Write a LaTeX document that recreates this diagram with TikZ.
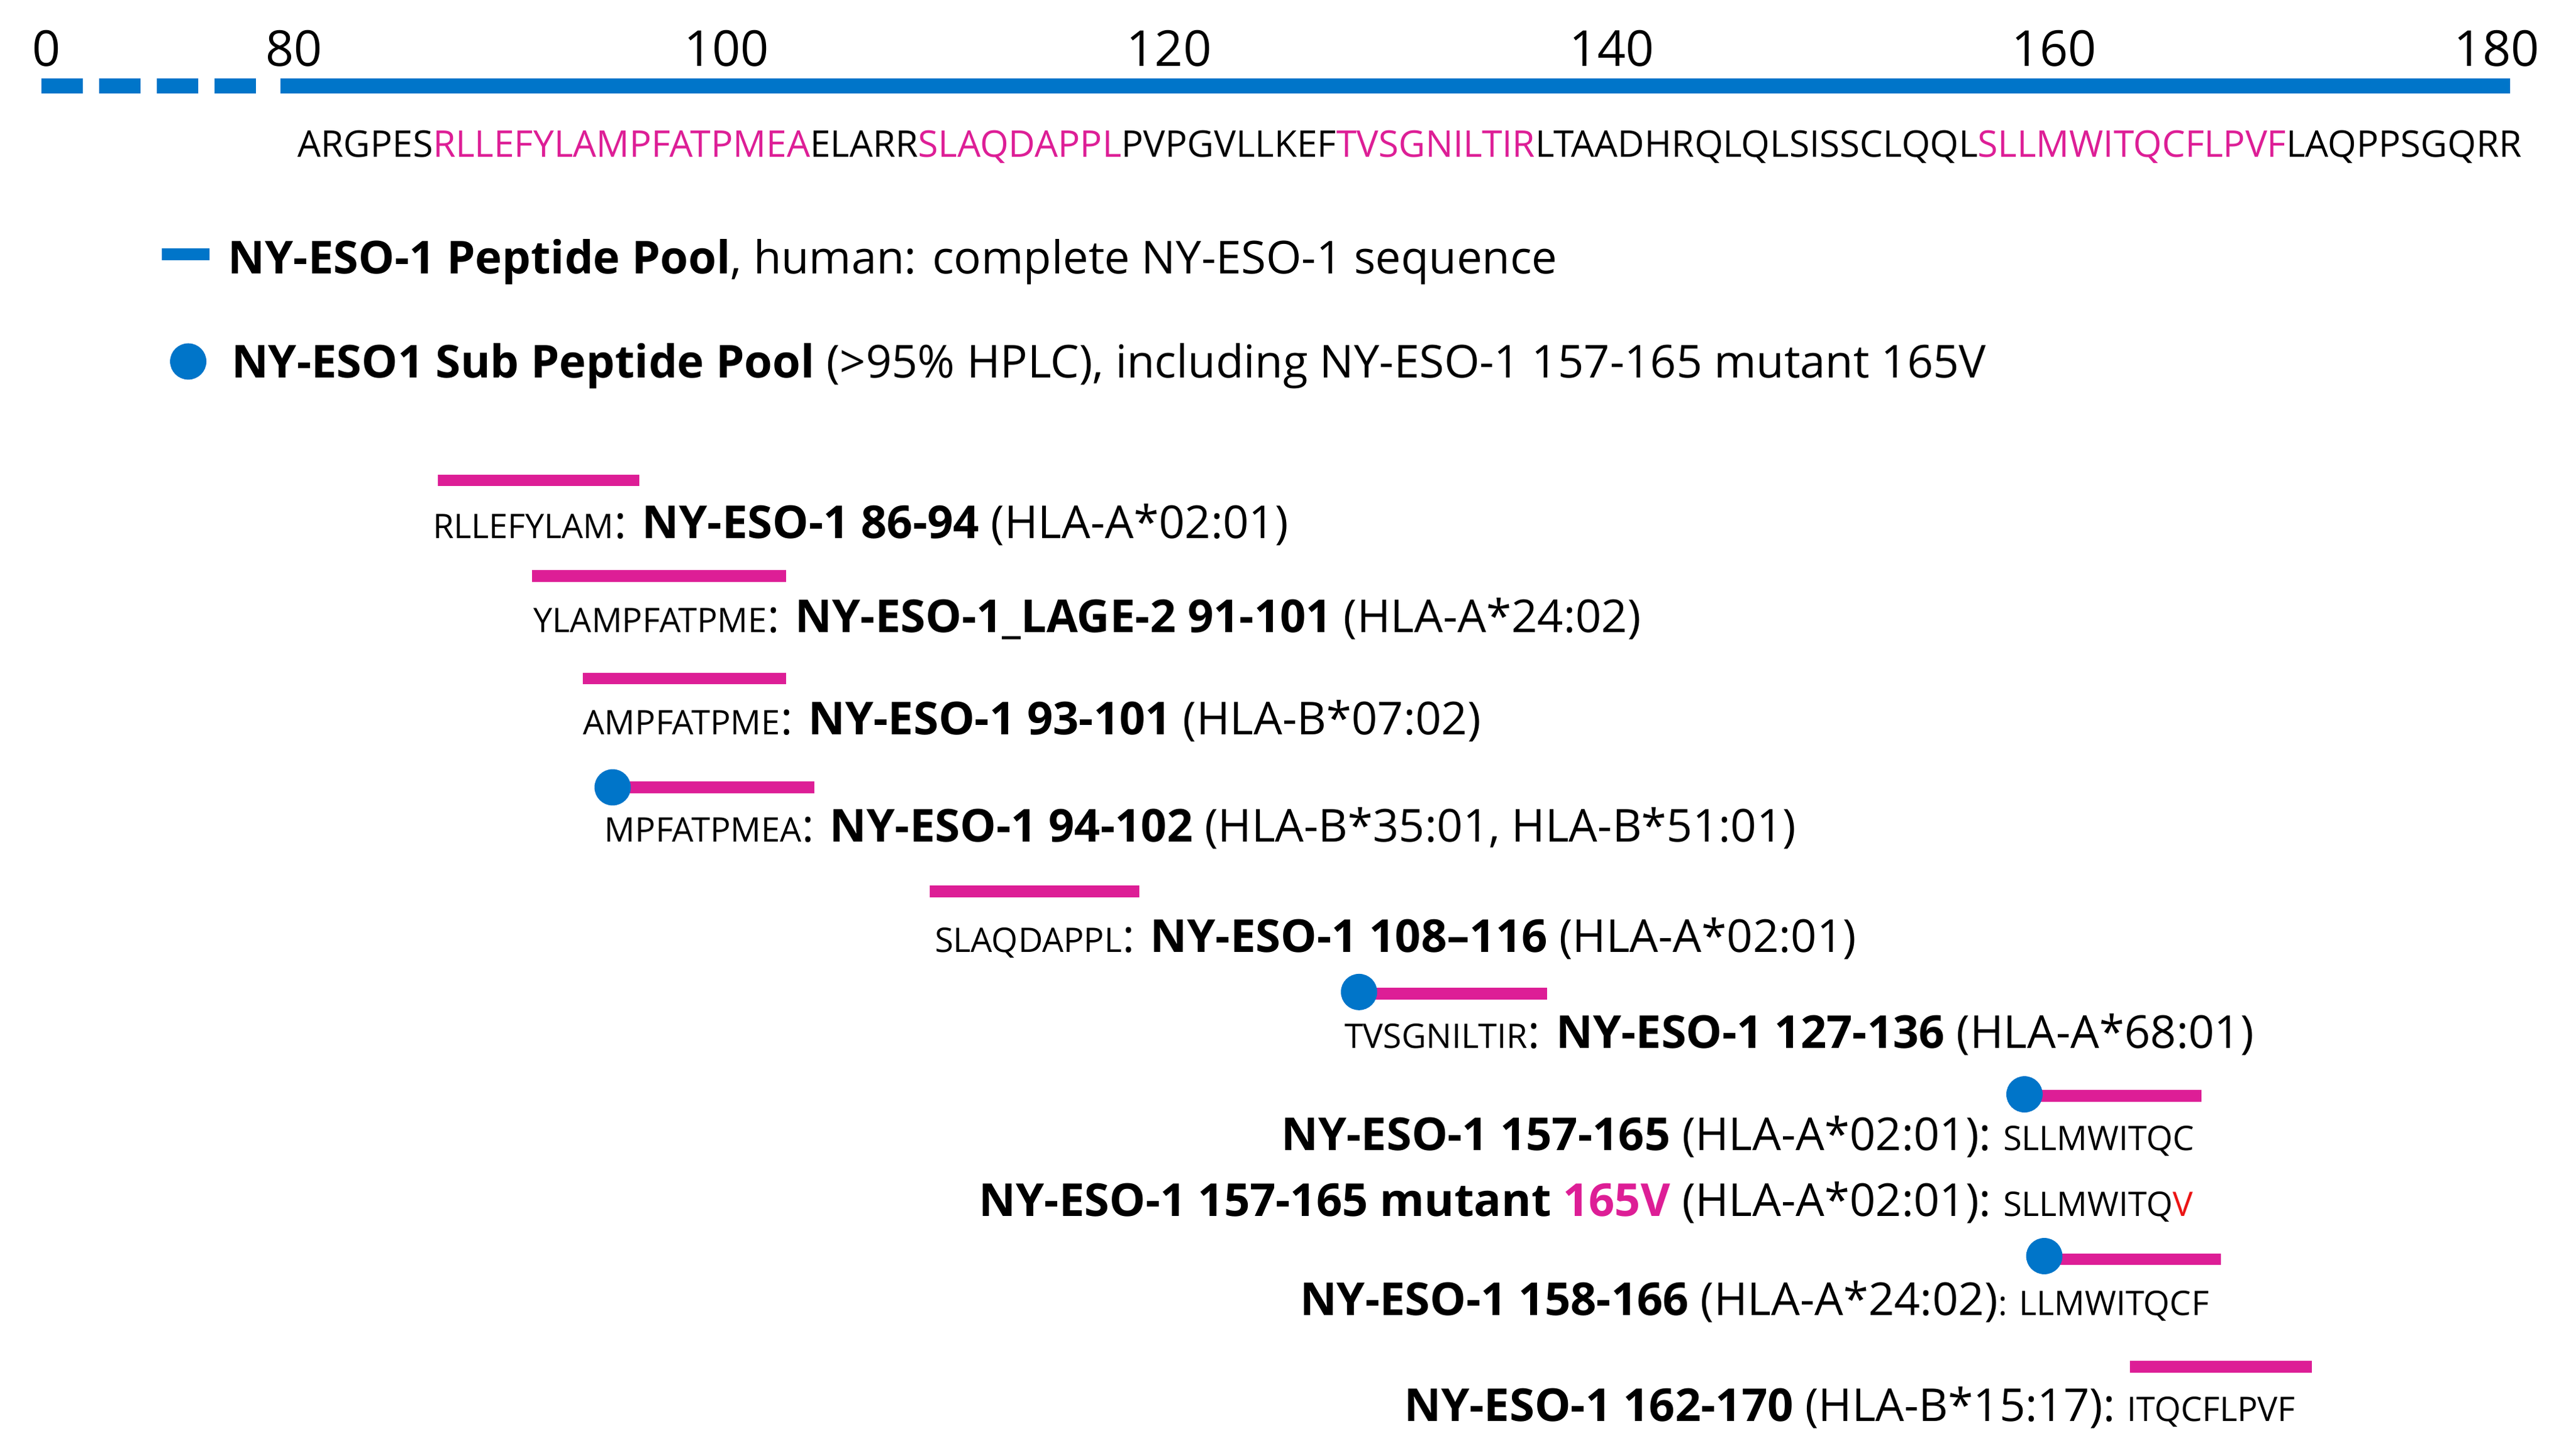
\documentclass[tikz,border=0pt]{standalone}
\usepackage{fontspec}
\setmainfont{Open Sans}
\usetikzlibrary{positioning}
\definecolor{seqblue}{RGB}{0,117,201}
\definecolor{epimag}{RGB}{221,30,150}
\definecolor{mutred}{RGB}{235,20,20}
\tikzset{
  lbl/.style={inner sep=0pt, anchor=base west, font=\fontsize{27.5}{32}\selectfont},
  lblr/.style={inner sep=0pt, anchor=base east, font=\fontsize{27.5}{32}\selectfont},
  sq/.style={inner sep=0pt, anchor=base west, font=\fontsize{20.5}{24}\selectfont},
  tick/.style={inner sep=0pt, anchor=base, font=\fontsize{30}{34}\selectfont},
  epibar/.style={epimag, line width=7pt},
  subdot/.style={circle, fill=seqblue, inner sep=0pt, minimum size=22pt}
}
\newcommand{\hl}[1]{\textcolor{epimag}{#1}}
\begin{document}
\begin{tikzpicture}[x=1pt,y=-1pt]
\useasboundingbox (0,0) rectangle (1560,880);
% axis
\draw[seqblue, line width=9pt, dash pattern=on 25pt off 10pt] (25,52) -- (157,52);
\draw[seqblue, line width=9pt] (170,52) -- (1520,52);
\foreach \v/\x in {0/28,80/178,100/440,120/708,140/976,160/1244,180/1512}
  \node[tick] (t\v) at (\x,40) {\v};
\node[inner sep=0pt, anchor=base west] (seq) at (180,95) {\resizebox{1347pt}{!}{\fontsize{18}{22}\selectfont ARGPES\hl{RLLEFYLAMPFATPMEA}ELARR\hl{SLAQDAPPL}PVPGVLLKEF\hl{TVSGNILTIR}LTAADHRQLQLSISSCLQQL\hl{SLLMWITQCFLPVF}LAQPPSGQRR}};
% legend
\draw[seqblue, line width=7pt] (98,154) -- (127,154);
\node[lbl] (leg1) at (138,166) {\textbf{NY-ESO-1 Peptide Pool}, human: complete NY-ESO-1 sequence};
\node[subdot] (legdot) at (114,219) {};
\node[lbl] (leg2) at (140,229) {\textbf{NY-ESO1 Sub Peptide Pool} (>95\% HPLC), including NY-ESO-1 157-165 mutant 165V};
% peptides
\draw[epibar] (265,291) -- (387,291);
\node[sq] (p1) at (262,326) {RLLEFYLAM};
\node[lbl, right=0pt of p1.base east, anchor=base west] (l1) {: \textbf{NY-ESO-1 86-94} (HLA-A*02:01)};
\draw[epibar] (322,349) -- (476,349);
\node[sq] (p2) at (323,383) {YLAMPFATPME};
\node[lbl, right=0pt of p2.base east, anchor=base west] (l2) {: \textbf{NY-ESO-1\_LAGE-2 91-101} (HLA-A*24:02)};
\draw[epibar] (353,411) -- (476,411);
\node[sq] (p3) at (353,445) {AMPFATPME};
\node[lbl, right=0pt of p3.base east, anchor=base west] (l3) {: \textbf{NY-ESO-1 93-101} (HLA-B*07:02)};
\draw[epibar] (371,477) -- (493,477);
\node[subdot] (d4) at (371,477) {};
\node[sq] (p4) at (366,510) {MPFATPMEA};
\node[lbl, right=0pt of p4.base east, anchor=base west] (l4) {: \textbf{NY-ESO-1 94-102} (HLA-B*35:01, HLA-B*51:01)};
\draw[epibar] (563,540) -- (690,540);
\node[sq] (p5) at (566,577) {SLAQDAPPL};
\node[lbl, right=0pt of p5.base east, anchor=base west] (l5) {: \textbf{NY-ESO-1 108--116} (HLA-A*02:01)};
\draw[epibar] (823,602) -- (937,602);
\node[subdot] (d6) at (823,601) {};
\node[sq] (p6) at (814,635) {TVSGNILTIR};
\node[lbl, right=0pt of p6.base east, anchor=base west] (l6) {: \textbf{NY-ESO-1 127-136} (HLA-A*68:01)};
\draw[epibar] (1226,664) -- (1333,664);
\node[subdot] (d7) at (1226,663) {};
\node[sq] (p7) at (1213,697) {SLLMWITQC};
\node[lblr] (l7) at (1206,697) {\textbf{NY-ESO-1 157-165} (HLA-A*02:01):};
\node[sq] (p8) at (1213,737) {SLLMWITQ\textcolor{mutred}{V}};
\node[lblr] (l8) at (1206,737) {\textbf{NY-ESO-1 157-165 mutant \hl{165V}} (HLA-A*02:01):};
\draw[epibar] (1238,763) -- (1345,763);
\node[subdot] (d9) at (1238,761) {};
\node[sq] (p9) at (1210,797) {: LLMWITQCF};
\node[lblr] (l9) at (1210,797) {\textbf{NY-ESO-1 158-166} (HLA-A*24:02)};
\draw[epibar] (1290,828) -- (1400,828);
\node[sq] (p10) at (1288,861) {ITQCFLPVF};
\node[lblr] (l10) at (1281,861) {\textbf{NY-ESO-1 162-170} (HLA-B*15:17):};
\end{tikzpicture}
\end{document}
